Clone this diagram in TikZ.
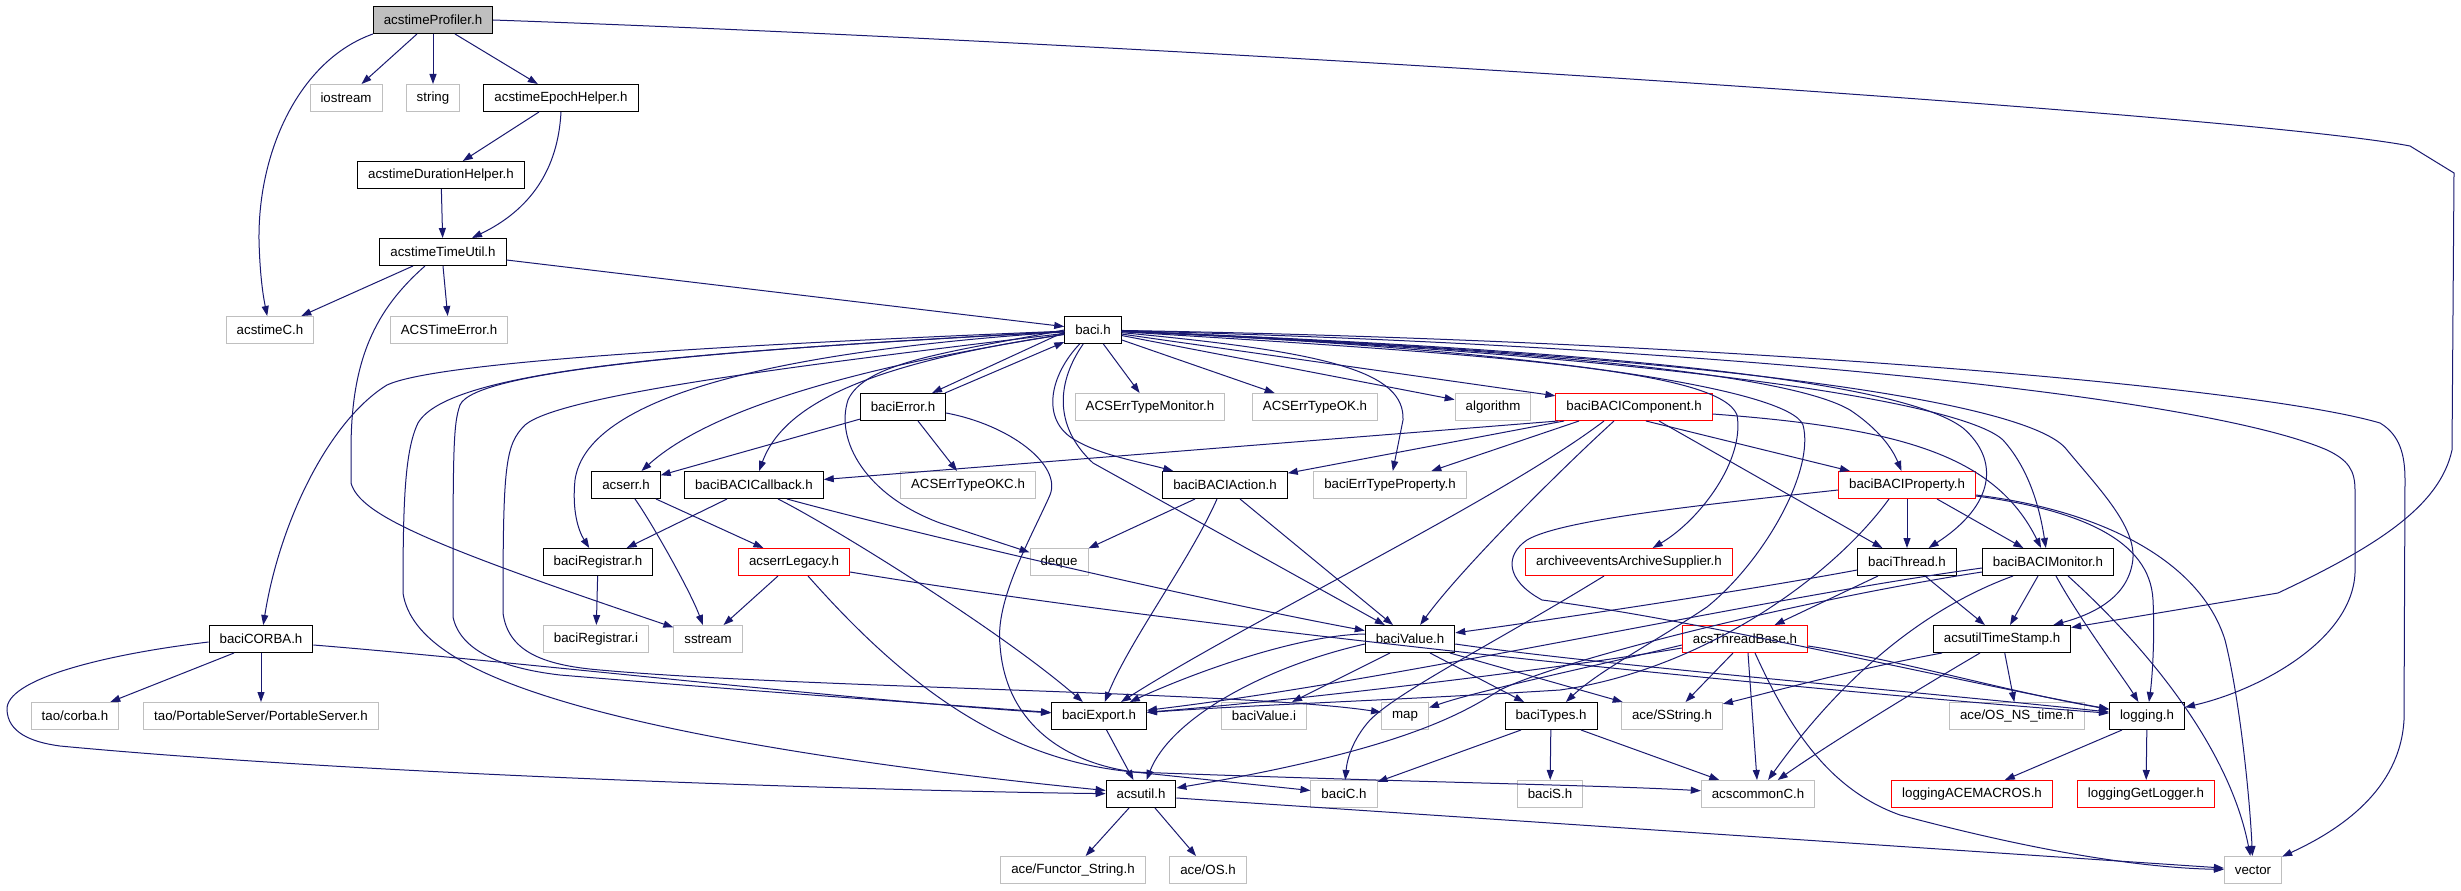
\documentclass[tikz,border=0pt]{standalone}
\usepackage{fontspec}
\newfontfamily\dgfont{Liberation Sans}
\usetikzlibrary{arrows.meta}
\definecolor{edgeblue}{HTML}{191970}
\definecolor{boxgray}{HTML}{BFBFBF}
\definecolor{rootgray}{HTML}{BFBFBF}
\newcommand\dgsize{\dgfont\fontsize{13.3}{16}\selectfont}
\tikzset{
  nb/.style={draw=black, fill=white, line width=1pt, font=\dgsize, inner xsep=10.5pt, inner ysep=0pt, minimum height=27pt},
  ng/.style={nb, draw=boxgray},
  nr/.style={nb, draw=red},
  e/.style={draw=edgeblue, line width=1pt, -{Triangle[length=10pt,width=7pt]}},
}
\begin{document}
\begin{tikzpicture}[x=1pt,y=-1pt]
\fill[white] (0,0) rectangle (2461,891);
\useasboundingbox (0,0) rectangle (2461,891);
% nodes
\node[nb,fill=rootgray] (prof) at (433,20) {acstimeProfiler.h};
\node[ng] (iostream) at (346,98) {iostream};
\node[ng] (string) at (433,98) {string};
\node[nb] (epoch) at (561,98) {acstimeEpochHelper.h};
\node[nb] (duration) at (441,175) {acstimeDurationHelper.h};
\node[nb] (timeutil) at (443,252) {acstimeTimeUtil.h};
\node[ng] (acstimeC) at (270,330) {acstimeC.h};
\node[ng] (timeError) at (449,330) {ACSTimeError.h};
\node[nb] (baci) at (1093,330) {baci.h};
\node[nb] (baciError) at (903,407) {baciError.h};
\node[ng] (errMonitor) at (1150,407) {ACSErrTypeMonitor.h};
\node[ng] (errOK) at (1315,407) {ACSErrTypeOK.h};
\node[ng] (algorithm) at (1493,407) {algorithm};
\node[nr] (component) at (1634,407) {baciBACIComponent.h};
\node[nb] (acserr) at (626,485) {acserr.h};
\node[nb] (callback) at (754,485) {baciBACICallback.h};
\node[ng] (errOKC) at (968,485) {ACSErrTypeOKC.h};
\node[nb] (action) at (1225,485) {baciBACIAction.h};
\node[ng] (errTypeProp) at (1390,485) {baciErrTypeProperty.h};
\node[nr] (property) at (1907,485) {baciBACIProperty.h};
\node[nb] (registrar) at (598,562) {baciRegistrar.h};
\node[nr] (legacy) at (794,562) {acserrLegacy.h};
\node[ng] (deque) at (1059,562) {deque};
\node[nr] (archive) at (1629,562) {archiveeventsArchiveSupplier.h};
\node[nb] (thread) at (1907,562) {baciThread.h};
\node[nb] (monitor) at (2048,562) {baciBACIMonitor.h};
\node[nb] (corba) at (261,639) {baciCORBA.h};
\node[ng] (registrarI) at (596,639) {baciRegistrar.i};
\node[ng] (sstream) at (708,639) {sstream};
\node[nb] (value) at (1410,639) {baciValue.h};
\node[nr] (threadBase) at (1745,639) {acsThreadBase.h};
\node[nb] (timestamp) at (2002,639) {acsutilTimeStamp.h};
\node[ng] (taocorba) at (75,716) {tao/corba.h};
\node[ng] (taoPS) at (261,716) {tao/PortableServer/PortableServer.h};
\node[nb] (export) at (1099,716) {baciExport.h};
\node[ng] (valueI) at (1264,716) {baciValue.i};
\node[ng] (map) at (1405,716) {map};
\node[nb] (types) at (1551,716) {baciTypes.h};
\node[ng] (sstring) at (1672,716) {ace/SString.h};
\node[ng] (osnstime) at (2017,716) {ace/OS\_NS\_time.h};
\node[nb] (logging) at (2147,716) {logging.h};
\node[nb] (acsutil) at (1141,794) {acsutil.h};
\node[ng] (baciC) at (1344,794) {baciC.h};
\node[ng] (baciS) at (1550,794) {baciS.h};
\node[ng] (acscommonC) at (1758,794) {acscommonC.h};
\node[nr] (aceMacros) at (1972,794) {loggingACEMACROS.h};
\node[nr] (getLogger) at (2146,794) {loggingGetLogger.h};
\node[ng] (functor) at (1073,870) {ace/Functor\_String.h};
\node[ng] (aceOS) at (1208,870) {ace/OS.h};
\node[ng] (vector) at (2253,870) {vector};
% profiler
\draw[e] ([xshift=-16pt]prof.south) -- (iostream);
\draw[e] (prof) -- (string);
\draw[e] ([xshift=22pt]prof.south) -- (epoch);
\draw[e] (prof.south west) .. controls (300,60) and (258,150) .. (259,240) .. controls (260,280) and (264,300) .. (acstimeC);
\draw[e] (prof.east) .. controls (1200,45) and (2250,115) .. (2410,146) -- (2454,173) -- (2452,450) .. controls (2440,505) and (2380,545) .. (2278,593) -- (timestamp);
% epoch, duration, timeutil
\draw[e] ([xshift=-22pt]epoch.south) -- (duration);
\draw[e] (epoch.south) .. controls (558,170) and (530,210) .. (timeutil);
\draw[e] (duration) -- (timeutil);
\draw[e] ([xshift=-30pt]timeutil.south) -- (acstimeC);
\draw[e] (timeutil.south) -- (timeError);
\draw[e] ([yshift=-8pt]timeutil.east) -- (baci);
\draw[e] ([xshift=-18pt]timeutil.south) .. controls (375,310) and (351,360) .. (351,450) -- (351,483) .. controls (360,515) and (430,545) .. (sstream);
% baci <-> baciError
\draw[e] ([yshift=-2pt]baci.west) -- ([xshift=29pt]baciError.north);
\draw[e] ([xshift=42pt]baciError.north) -- ([yshift=2pt]baci.south west);
% baci short
\draw[e] (baci) -- (errMonitor);
\draw[e] (baci) -- (errOK);
\draw[e] (baci) -- (algorithm);
\draw[e] (baci) -- (component);
\draw[e] (baci) .. controls (1330,352) and (1405,372) .. (1403,420) -- (errTypeProp);
\draw[e] (baci) .. controls (1050,375) and (1040,420) .. (1075,440) .. controls (1100,455) and (1140,462) .. (action);
\draw[e] (baci) .. controls (1058,380) and (1052,425) .. (1093,463) -- (value);
% baci left
\draw[e] (baci.west) .. controls (950,352) and (865,362) .. (848,400) .. controls (835,440) and (865,495) .. (940,523) -- (deque);
\draw[e] (baci) .. controls (900,360) and (720,400) .. (acserr);
\draw[e] (baci) .. controls (880,362) and (785,400) .. (callback);
\draw[e] (baci) .. controls (720,355) and (585,410) .. (575,480) .. controls (572,510) and (578,530) .. (registrar);
\draw[e] (baci) .. controls (650,348) and (430,365) .. (387,385) .. controls (330,420) and (280,520) .. (corba);
\draw[e] (baci) .. controls (700,352) and (450,368) .. (418,423) .. controls (405,450) and (403,500) .. (403,593) .. controls (410,640) and (470,672) .. (549,697) .. controls (700,745) and (950,775) .. (acsutil);
\draw[e] (baci) .. controls (720,350) and (475,370) .. (460,405) .. controls (453,425) and (453,450) .. (453,617) .. controls (460,650) and (500,668) .. (560,675) .. controls (800,695) and (950,705) .. (export);
\draw[e] (baci) .. controls (800,365) and (560,395) .. (525,425) .. controls (505,445) and (503,465) .. (503,613) .. controls (508,650) and (540,665) .. (600,670) .. controls (800,688) and (1250,692) .. (map);
% baci right fan
\draw[e] (baci) .. controls (1500,355) and (1720,370) .. (1737,415) .. controls (1745,460) and (1700,520) .. (archive);
\draw[e] (baci) .. controls (1550,350) and (1790,375) .. (1850,410) .. controls (1880,430) and (1893,450) .. (property);
\draw[e] (baci) .. controls (1550,350) and (1790,390) .. (1803,425) .. controls (1815,470) and (1765,560) .. (1707,607) .. controls (1650,645) and (1600,670) .. (types);
\draw[e] (baci) .. controls (1600,350) and (1900,380) .. (1963,428) .. controls (2000,460) and (1995,505) .. (thread);
\draw[e] (baci) .. controls (1650,355) and (1960,400) .. (2003,440) .. controls (2030,470) and (2040,510) .. (monitor);
\draw[e] (baci) .. controls (1700,355) and (2030,400) .. (2067,450) .. controls (2100,490) and (2140,530) .. (2132,565) .. controls (2125,600) and (2090,615) .. (timestamp);
\draw[e] (baci) .. controls (1700,345) and (2200,395) .. (2327,450) .. controls (2348,460) and (2355,470) .. (2355,490) -- (2355,573) .. controls (2352,640) and (2260,690) .. (logging);
\draw[e] (baci) .. controls (1700,340) and (2250,385) .. (2380,423) .. controls (2400,435) and (2405,455) .. (2405,480) -- (2404,720) .. controls (2400,790) and (2340,830) .. (vector);
% baciError
\draw[e] (baciError) -- (acserr);
\draw[e] ([xshift=15pt]baciError.south) -- (errOKC);
\draw[e] ([yshift=-6pt]baciError.east) .. controls (1010,425) and (1062,465) .. (1050,495) .. controls (1030,540) and (995,600) .. (1000,645) .. controls (1005,720) and (1060,762) .. (1134,772) -- (baciC);
% acserr, callback, registrar, legacy
\draw[e] ([xshift=9pt]acserr.south) .. controls (650,520) and (690,590) .. (sstream);
\draw[e] ([xshift=30pt]acserr.south) -- (legacy);
\draw[e] ([xshift=-27pt]callback.south) -- (registrar);
\draw[e] ([xshift=24pt]callback.south) .. controls (830,525) and (1000,630) .. (export);
\draw[e] ([xshift=33pt]callback.south) .. controls (900,530) and (1200,600) .. (value);
\draw[e] (registrar) -- (registrarI);
\draw[e] ([xshift=-16pt]legacy.south) -- (sstream);
\draw[e] ([yshift=-10pt]legacy.east) .. controls (1200,630) and (1800,690) .. (logging);
\draw[e] ([xshift=14pt]legacy.south) .. controls (900,680) and (1000,760) .. (1134,772) .. controls (1400,782) and (1600,785) .. (acscommonC);
% corba
\draw[e] ([xshift=-27pt]corba.south) -- (taocorba);
\draw[e] (corba) -- (taoPS);
\draw[e] ([yshift=-6pt]corba.east) .. controls (500,660) and (850,700) .. (export);
\draw[e] ([yshift=-3pt]corba.west) .. controls (100,655) and (5,680) .. (7,710) .. controls (8,732) and (30,742) .. (60,746) .. controls (400,778) and (950,792) .. (acsutil);
% component
\draw[e] ([xshift=-76pt]component.south) -- (callback);
\draw[e] ([xshift=-70pt]component.south) -- (action);
\draw[e] ([xshift=-55pt]component.south) -- (errTypeProp);
\draw[e] ([xshift=-20pt]component.south) .. controls (1560,470) and (1460,570) .. (value);
\draw[e] ([xshift=-30pt]component.south) .. controls (1500,500) and (1250,620) .. (export);
\draw[e] ([xshift=12pt]component.south) -- (property);
\draw[e] ([xshift=25pt]component.south) -- (thread);
\draw[e] ([yshift=-7pt]component.east) .. controls (1900,428) and (1995,455) .. (monitor);
% archive
\draw[e] ([xshift=-25pt]archive.south) .. controls (1500,640) and (1400,690) .. (1370,720) .. controls (1352,740) and (1347,760) .. (baciC);
% property
\draw[e] (property) -- (thread);
\draw[e] ([xshift=30pt]property.south) -- (monitor);
\draw[e] ([xshift=-18pt]property.south) .. controls (1830,580) and (1700,670) .. (1560,690) .. controls (1400,700) and (1250,705) .. (export);
\draw[e] ([yshift=-11pt]property.east) .. controls (2080,510) and (2150,540) .. (2153,600) .. controls (2155,640) and (2152,680) .. (logging);
\draw[e] ([yshift=-10pt]property.east) .. controls (2100,510) and (2200,560) .. (2225,640) .. controls (2240,700) and (2250,800) .. (vector);
\draw[e] ([yshift=-5pt]property.west) .. controls (1700,505) and (1560,520) .. (1527,540) .. controls (1505,555) and (1505,580) .. (1542,600) .. controls (1700,620) and (1950,680) .. (logging);
% thread
\draw[e] ([xshift=-29pt]thread.south) -- (threadBase);
\draw[e] ([xshift=18pt]thread.south) -- (timestamp);
\draw[e] ([yshift=-8pt]thread.west) .. controls (1750,590) and (1550,620) .. (value);
% monitor
\draw[e] ([xshift=-10pt]monitor.south) -- (timestamp);
\draw[e] ([xshift=8pt]monitor.south) .. controls (2080,620) and (2125,680) .. (logging);
\draw[e] ([xshift=20pt]monitor.south) .. controls (2150,650) and (2230,750) .. (vector);
\draw[e] ([xshift=-35pt]monitor.south) .. controls (1920,610) and (1840,680) .. (acscommonC);
\draw[e] ([yshift=-6pt]monitor.west) .. controls (1750,600) and (1400,680) .. (export);
\draw[e] ([yshift=-10pt]monitor.west) .. controls (1800,600) and (1560,660) .. (1500,690) .. controls (1460,715) and (1400,750) .. (acsutil);
% threadBase
\draw[e] ([xshift=-12pt]threadBase.south) -- (sstring);
\draw[e] ([xshift=3pt]threadBase.south) -- (acscommonC);
\draw[e] ([xshift=10pt]threadBase.south) .. controls (1790,730) and (1830,790) .. (1900,815) .. controls (2050,855) and (2150,868) .. (vector);
\draw[e] ([yshift=-7pt]threadBase.east) .. controls (1900,660) and (2000,690) .. (logging);
\draw[e] ([yshift=-6pt]threadBase.west) .. controls (1600,665) and (1480,690) .. (map);
\draw[e] ([yshift=-9pt]threadBase.west) .. controls (1550,670) and (1300,700) .. (export);
% timestamp
\draw[e] (timestamp) -- (osnstime);
\draw[e] ([xshift=-60pt]timestamp.south) .. controls (1850,670) and (1760,695) .. (sstring);
\draw[e] ([xshift=-22pt]timestamp.south) .. controls (1900,700) and (1820,750) .. (acscommonC);
% logging
\draw[e] ([xshift=-25pt]logging.south) -- (aceMacros);
\draw[e] (logging) -- (getLogger);
% action
\draw[e] ([xshift=-30pt]action.south) -- (deque);
\draw[e] ([xshift=-8pt]action.south) .. controls (1190,560) and (1130,640) .. (export);
\draw[e] ([xshift=15pt]action.south) -- (value);
% value
\draw[e] ([xshift=-20pt]value.south) -- (valueI);
\draw[e] ([xshift=20pt]value.south) -- (types);
\draw[e] ([xshift=40pt]value.south) -- (sstring);
\draw[e] ([yshift=-5pt]value.east) .. controls (1600,665) and (1900,690) .. (logging);
\draw[e] ([yshift=5pt]value.west) .. controls (1300,635) and (1200,670) .. (export);
\draw[e] ([yshift=-5pt]value.west) .. controls (1260,668) and (1170,720) .. (acsutil);
% export, types, acsutil
\draw[e] (export) -- (acsutil);
\draw[e] (types) -- (baciS);
\draw[e] ([xshift=-30pt]types.south) -- (baciC);
\draw[e] ([xshift=30pt]types.south) -- (acscommonC);
\draw[e] ([xshift=-12pt]acsutil.south) -- (functor);
\draw[e] ([xshift=14pt]acsutil.south) -- (aceOS);
\draw[e] ([yshift=-4pt]acsutil.east) -- (vector);
\end{tikzpicture}
\end{document}
